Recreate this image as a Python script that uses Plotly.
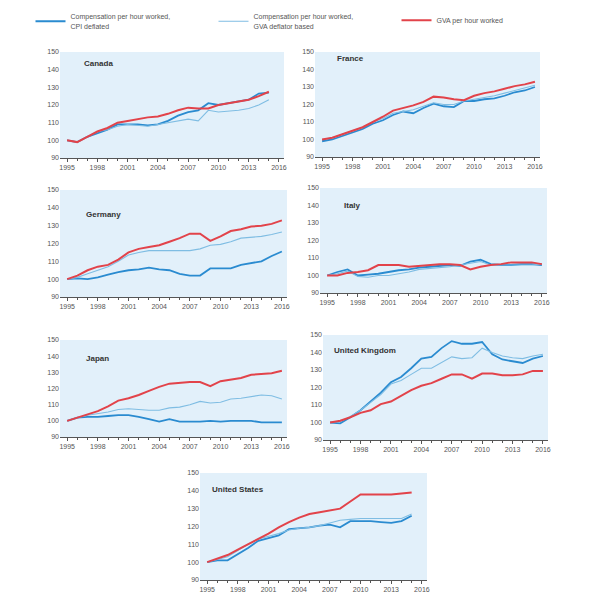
import plotly.graph_objects as go

years = list(range(1995, 2017))

series_names = [
    "Compensation per hour worked,<br>CPI deflated",
    "Compensation per hour worked,<br>GVA deflator based",
    "GVA per hour worked",
]

# Canada (1995-2015)
canada_cpi = [100, 99, 102, 104, 106, 109, 109, 109, 108.5, 109, 111, 114, 116, 117, 121, 120, 121, 122, 123, 126.5, 127]
canada_defl = [100, 99, 102, 105, 106, 108, 109, 108.5, 108, 109, 110, 111, 112, 111, 117, 116, 116.5, 117, 118, 120, 123]
canada_gva = [100, 99, 102, 105, 107, 110, 111, 112, 113, 113.5, 115, 117, 118.5, 118, 118, 120, 121, 122, 123, 125, 127.5]

# France (1995-2016)
france_cpi = [99, 100, 102, 104, 106, 109, 111, 114, 116, 115, 118, 120.5, 119, 118.5, 122, 122, 123, 123.5, 125, 127, 128, 130]
france_defl = [100, 101, 103, 105, 107, 110, 112, 115, 116, 117, 119, 121, 120, 120, 122, 123, 124, 125, 126.5, 128, 129.5, 131]
france_gva = [100, 101, 103, 105, 107, 110, 113, 116.5, 118, 119.5, 121.5, 124.5, 124, 123, 122.5, 125, 126.5, 127.5, 129, 130.5, 131.5, 133]

# Germany (1995-2016)
germany_cpi = [100, 100.5, 100, 101, 102.5, 104, 105, 105.5, 106.5, 105.5, 105, 103, 102, 102, 106, 106, 106, 108, 109, 110, 113, 115.5]
germany_defl = [100, 101, 103, 105, 107, 110, 113.5, 115, 116, 116, 116, 116, 116, 117, 119, 119.5, 121, 123, 123.5, 124, 125, 126.5]
germany_gva = [100, 102, 105, 107, 108, 111, 115, 117, 118, 119, 121, 123, 125.5, 125.5, 121.5, 124, 127, 128, 129.5, 130, 131, 133]

# Italy (1995-2016)
italy_cpi = [100, 102, 103.5, 100, 100.5, 101, 102, 103, 103.5, 104.5, 105, 105.5, 106, 105.5, 108, 109, 106.5, 106, 106, 106.5, 106.5, 106]
italy_defl = [100, 101, 102.5, 99.5, 99, 100, 100, 101, 102, 103.5, 104, 104.5, 105, 106, 107, 108, 106, 106, 106, 106, 106, 106.5]
italy_gva = [100, 100, 101.5, 102, 103, 106, 106, 106, 105, 105.5, 106, 106.5, 106.5, 106, 103.5, 105, 106, 106.5, 107.5, 107.5, 107.5, 106.5]

# Japan (1995-2016)
japan_cpi = [100, 102, 102.5, 102.5, 103, 103.5, 103.5, 102.5, 101, 99.5, 101, 99.5, 99.5, 99.5, 100, 99.5, 100, 100, 100, 99, 99, 99]
japan_defl = [100, 102, 103.5, 104.5, 105.5, 107, 107.5, 107, 106.5, 106.5, 108, 108.5, 110, 112, 111, 111.5, 113.5, 114, 115, 116, 115.5, 113.5]
japan_gva = [100, 102, 104, 106, 109, 112.5, 114, 116, 118.5, 121, 123, 123.5, 124, 124, 121.5, 124.5, 125.5, 126.5, 128.5, 129, 129.5, 131]

# United Kingdom (1995-2016)
uk_cpi = [100, 99.5, 103, 107, 112, 117, 123, 126, 131, 136.5, 137.5, 142.5, 146.5, 145, 145, 146, 139, 136, 135, 134, 136.5, 138]
uk_defl = [100, 100.5, 103.5, 107, 111.5, 116, 122, 124, 127.5, 131, 131, 134.5, 137.5, 136.5, 137, 142.5, 140, 138, 137, 136.5, 138, 139]
uk_gva = [100, 101, 103, 105.5, 107, 110.5, 112, 115.5, 118.5, 121, 122.5, 125, 127.5, 127.5, 125, 128, 128, 127, 127, 127.5, 129.5, 129.5]

# United States (1995-2015)
us_cpi = [100, 101, 101, 104.5, 108, 112, 113.5, 115, 118.5, 119, 119.5, 120.5, 121, 119.5, 123, 123, 123, 122.5, 122, 123, 126]
us_defl = [100, 101.5, 103, 106.5, 110, 113, 114.5, 116, 118, 119, 119.5, 120.5, 122, 123.5, 124, 124.5, 124.5, 124.5, 124.5, 124.5, 127]
us_gva = [100, 102, 104, 107, 110, 113, 116, 119.5, 122.5, 125, 127, 128, 129, 130, 134, 138, 138, 138, 138, 138.5, 139]

y_ticks = [90, 100, 110, 120, 130, 140, 150]
x_tick_labels = [1995, 1998, 2001, 2004, 2007, 2010, 2013, 2016]

colors = ["#2a8bd0", "#7fbde3", "#e2434a"]
widths = [1.8, 1.1, 2.0]

# page body adds an 8px margin around the figure
OFF = 8
W, H = 616 - 2 * OFF, 602 - 2 * OFF

# panel: name, data, pixel box in page coords (left, right, top, bottom), title offset (px)
panels = [
    ("Canada", (canada_cpi, canada_defl, canada_gva), (60, 284, 52, 158), (22, 12)),
    ("France", (france_cpi, france_defl, france_gva), (315, 540, 52, 157), (20, 7)),
    ("Germany", (germany_cpi, germany_defl, germany_gva), (60, 287, 190, 297), (24, 24)),
    ("Italy", (italy_cpi, italy_defl, italy_gva), (320, 547, 188, 293), (22, 17)),
    ("Japan", (japan_cpi, japan_defl, japan_gva), (60, 287, 340, 437), (24, 18)),
    ("United Kingdom", (uk_cpi, uk_defl, uk_gva), (323, 548, 335, 440), (9, 15)),
    ("United States", (us_cpi, us_defl, us_gva), (200, 427, 473, 580), (10, 16)),
]

def fx(px):
    return (px - OFF) / W

def fy(py):
    return 1 - (py - OFF) / H

fig = go.Figure()
annotations = []
for i, (name, data, box, toff) in enumerate(panels):
    n = i + 1
    xa = "x" if n == 1 else f"x{n}"
    ya = "y" if n == 1 else f"y{n}"
    for s in range(3):
        vals = data[s]
        fig.add_trace(go.Scatter(
            x=years[:len(vals)], y=vals, mode="lines",
            line=dict(color=colors[s], width=widths[s]),
            name=series_names[s], showlegend=(n == 1),
            xaxis=xa, yaxis=ya, hoverinfo="skip",
        ))
    l, r, t, b = box
    xkey = "xaxis" if n == 1 else f"xaxis{n}"
    ykey = "yaxis" if n == 1 else f"yaxis{n}"
    fig.update_layout({
        xkey: dict(
            domain=[fx(l), fx(r)], anchor=ya, range=[1994.3, 2016.5],
            tickmode="array", tickvals=x_tick_labels,
            ticktext=[str(v) for v in x_tick_labels],
            ticks="outside", ticklen=3, tickcolor="#555",
            minor=dict(dtick=1, tick0=1995, ticks="outside", ticklen=2, tickcolor="#555"),
            showline=True, linecolor="#555", linewidth=1,
            showgrid=False, zeroline=False,
            tickfont=dict(size=7, color="#555", family="Liberation Sans"),
        ),
        ykey: dict(
            domain=[fy(b), fy(t)], anchor=xa, range=[90, 150],
            tickmode="array", tickvals=y_ticks,
            ticks="", showline=False, showgrid=False, zeroline=False,
            tickfont=dict(size=7, color="#555", family="Liberation Sans"),
        ),
    })
    fig.add_shape(type="rect", xref=f"{xa} domain", yref=f"{ya} domain",
                  x0=0, x1=1, y0=0, y1=1, fillcolor="#e2f0fa",
                  line=dict(width=0), layer="below")
    annotations.append(dict(
        text=f"<b>{name}</b>", xref="paper", yref="paper",
        x=fx(l + toff[0]), y=fy(t + toff[1]),
        xanchor="left", yanchor="middle", showarrow=False,
        font=dict(size=8, color="#333", family="Liberation Sans"),
    ))

fig.update_layout(
    width=W, height=H,
    margin=dict(l=0, r=0, t=0, b=0, autoexpand=False),
    paper_bgcolor="white", plot_bgcolor="rgba(0,0,0,0)",
    annotations=annotations,
    legend=dict(
        orientation="h", x=0.0375, y=1.004, xanchor="left", yanchor="top",
        font=dict(size=7, color="#555", family="Liberation Sans"),
        itemwidth=30, entrywidth=138, entrywidthmode="pixels",
        bgcolor="rgba(0,0,0,0)", tracegroupgap=0,
    ),
)

fig.write_html("out.html")
